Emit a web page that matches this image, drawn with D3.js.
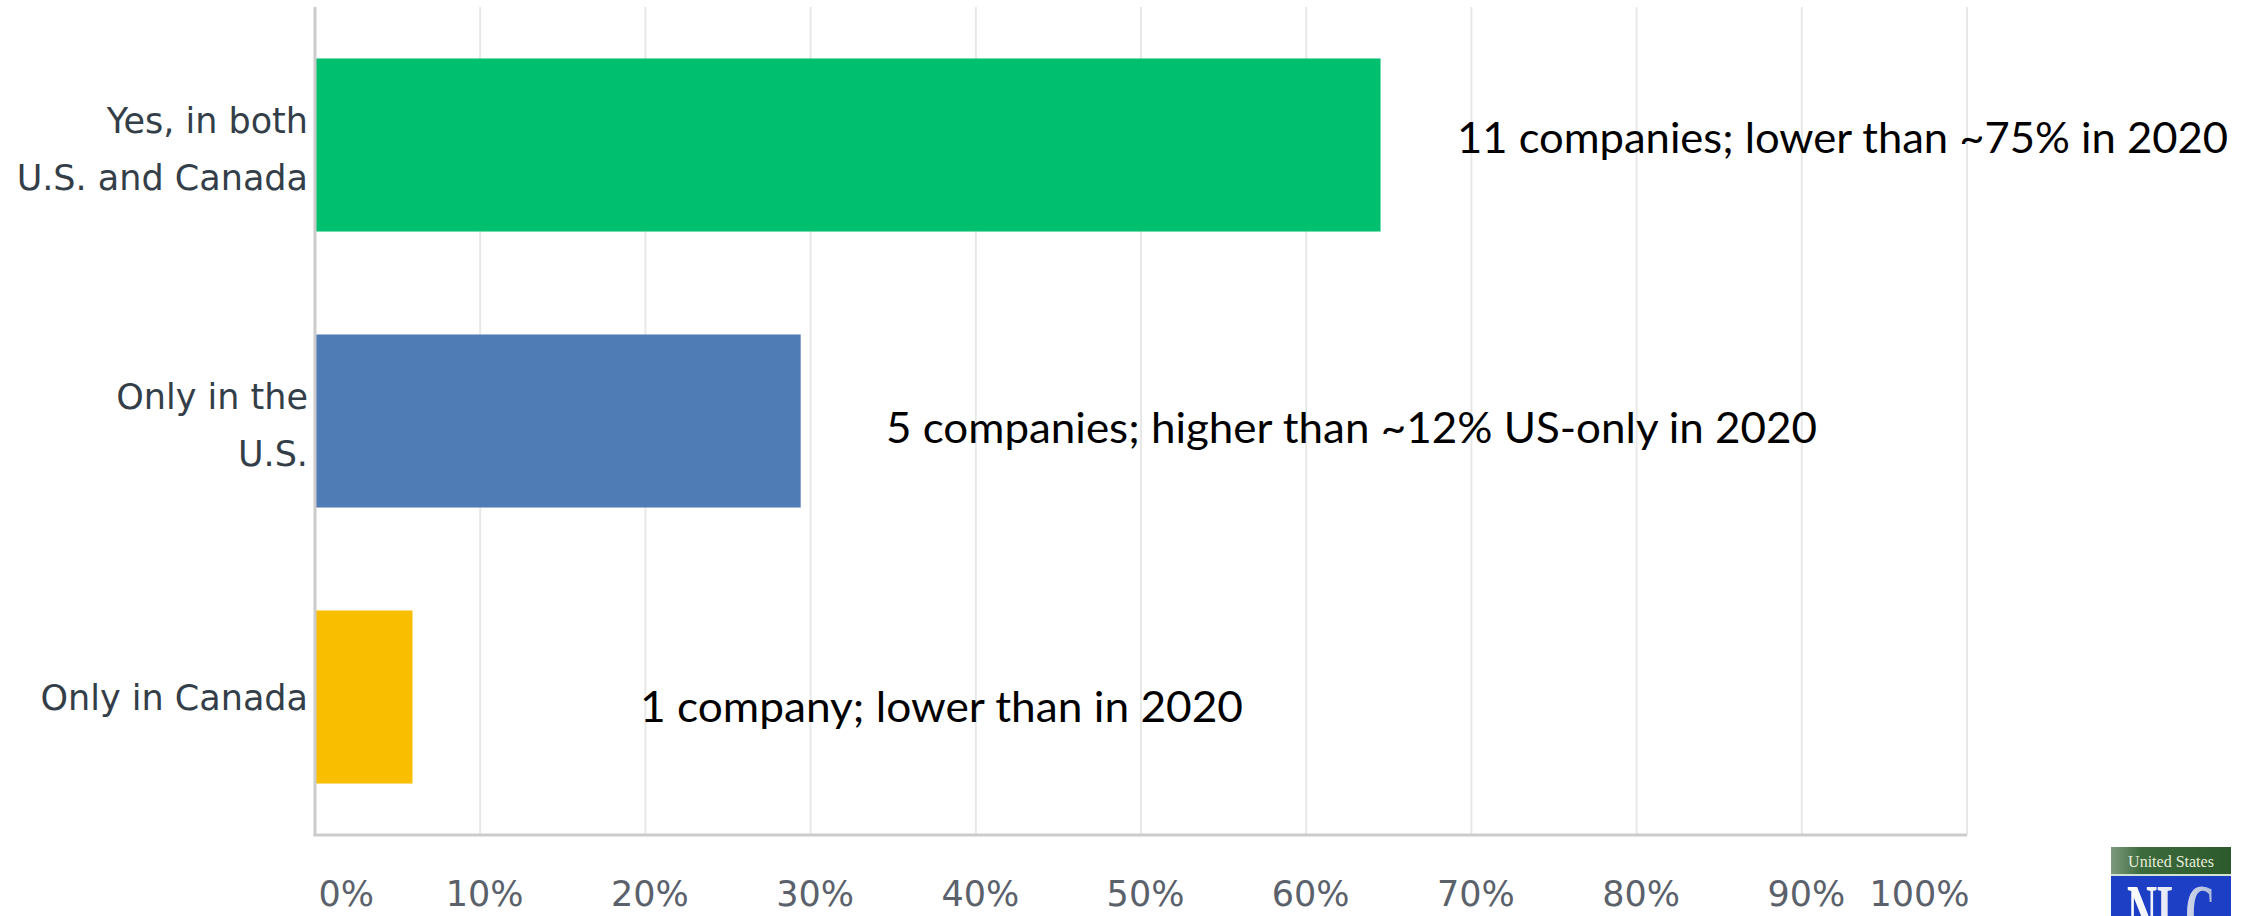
<!DOCTYPE html>
<html>
<head>
<meta charset="utf-8">
<script src="https://cdn.jsdelivr.net/npm/d3@7"></script>
<style>
  html, body { margin: 0; padding: 0; background: #ffffff; }
  svg { display: block; }
</style>
</head>
<body>
<script>
// ---- data ----
const categories = [
  ["Yes, in both", "U.S. and Canada"],
  ["Only in the", "U.S."],
  ["Only in Canada"]
];
const shares = [0.645, 0.294, 0.059];
const annotations = [
  "11 companies; lower than ~75% in 2020",
  "5 companies; higher than ~12% US-only in 2020",
  "1 company; lower than in 2020"
];
const tickValues = [0, 0.1, 0.2, 0.3, 0.4, 0.5, 0.6, 0.7, 0.8, 0.9, 1.0];
const tickLabels = ["0%", "10%", "20%", "30%", "40%", "50%", "60%", "70%", "80%", "90%", "100%"];
const logoTop = "United States";
const logoMain = "NLC";

// ---- layout / style ----
const W = 2261, H = 916;
const barColors = ["#00bf6f", "#507cb6", "#f9be00"];
const annoLayout = [
  { x: 1457, y: 153, w: 771 },
  { x: 886, y: 443, w: 931 },
  { x: 640, y: 722, w: 603 }
];

const svg = d3.select("body").append("svg")
  .attr("width", W).attr("height", H)
  .attr("viewBox", `0 0 ${W} ${H}`);

const x = d3.scaleLinear().domain([0, 1]).range([315, 1967]);
const y = d3.scaleBand().domain(d3.range(categories.length))
  .range([7, 835]).paddingInner(0.373).paddingOuter(0.1865);

// gridlines
svg.append("g").selectAll("line")
  .data(tickValues.slice(1))
  .join("line")
  .attr("x1", d => x(d)).attr("x2", d => x(d))
  .attr("y1", 7).attr("y2", 835)
  .attr("stroke", "#e8e8e8").attr("stroke-width", 2);

// bars
svg.append("g").selectAll("rect")
  .data(shares)
  .join("rect")
  .attr("x", x(0) + 1)
  .attr("y", (d, i) => y(i))
  .attr("width", d => x(d) - x(0) - 1)
  .attr("height", y.bandwidth())
  .attr("fill", (d, i) => barColors[i]);

// axis lines
svg.append("line").attr("x1", x(0)).attr("x2", x(0)).attr("y1", 7).attr("y2", 836)
  .attr("stroke", "#cccccc").attr("stroke-width", 3);
svg.append("line").attr("x1", x(0) - 1.5).attr("x2", x(1)).attr("y1", 835).attr("y2", 835)
  .attr("stroke", "#cccccc").attr("stroke-width", 3);

// x tick labels via d3 axis
const xAxis = d3.axisBottom(x).tickValues(tickValues)
  .tickFormat((d, i) => tickLabels[i]).tickSize(0).tickPadding(0);
const gx = svg.append("g").attr("transform", "translate(0,880)").call(xAxis);
gx.select(".domain").remove();
gx.selectAll("text")
  .attr("font-family", "DejaVu Sans, sans-serif")
  .attr("font-size", 35)
  .attr("fill", "#5a616b")
  .attr("dy", 0).attr("y", 26)
  .attr("text-anchor", (d, i) => i === 0 ? "start" : (i === tickValues.length - 1 ? "end" : "middle"))
  .attr("dx", (d, i) => i === 0 ? 3 : (i === tickValues.length - 1 ? 2 : 4));

// y category labels
const lineGap = 57;
const gy = svg.append("g");
categories.forEach((lines, i) => {
  const cy = y(i) + y.bandwidth() / 2;
  const t = gy.append("text")
    .attr("font-family", "DejaVu Sans, sans-serif")
    .attr("font-size", 35)
    .attr("fill", "#333e48")
    .attr("text-anchor", "end");
  const n = lines.length;
  lines.forEach((ln, j) => {
    t.append("tspan")
      .attr("x", 308)
      .attr("y", cy + 13 + (j - (n - 1) / 2) * lineGap + (n > 1 ? 3 : 0))
      .text(ln);
  });
});

// annotations
svg.append("g").selectAll("text")
  .data(annotations)
  .join("text")
  .attr("x", (d, i) => annoLayout[i].x)
  .attr("y", (d, i) => annoLayout[i].y)
  .attr("textLength", (d, i) => annoLayout[i].w)
  .attr("lengthAdjust", "spacingAndGlyphs")
  .attr("font-family", "Lato, 'Open Sans', sans-serif")
  .attr("font-size", 42)
  .attr("fill", "#000000")
  .text(d => d);

// logo
const defs = svg.append("defs");
const gGreen = defs.append("linearGradient").attr("id", "gGreen").attr("x1", 0).attr("x2", 1).attr("y1", 0).attr("y2", 0);
gGreen.append("stop").attr("offset", "0%").attr("stop-color", "#7f9a7f");
gGreen.append("stop").attr("offset", "25%").attr("stop-color", "#3d6b3d");
gGreen.append("stop").attr("offset", "100%").attr("stop-color", "#2c5a2c");
const gLetters = defs.append("linearGradient").attr("id", "gLetters").attr("x1", 0).attr("x2", 1).attr("y1", 0).attr("y2", 0);
gLetters.append("stop").attr("offset", "0%").attr("stop-color", "#ffffff");
gLetters.append("stop").attr("offset", "50%").attr("stop-color", "#e4e8f4");
gLetters.append("stop").attr("offset", "100%").attr("stop-color", "#aab6d8");
defs.append("clipPath").attr("id", "logoClip")
  .append("rect").attr("x", 2111).attr("y", 847).attr("width", 120).attr("height", 69);

const logo = svg.append("g").attr("clip-path", "url(#logoClip)");
logo.append("rect").attr("x", 2111).attr("y", 847).attr("width", 120).attr("height", 27).attr("fill", "url(#gGreen)");
logo.append("rect").attr("x", 2111).attr("y", 874).attr("width", 120).attr("height", 2).attr("fill", "#cfe3d0");
logo.append("rect").attr("x", 2111).attr("y", 876).attr("width", 120).attr("height", 40).attr("fill", "#1c3fc6");
logo.append("text").attr("x", 2171).attr("y", 867).attr("text-anchor", "middle")
  .attr("font-family", "Liberation Serif, serif").attr("font-size", 16)
  .attr("fill", "#e6ecd9").text(logoTop);
logo.append("text").attr("x", 2127).attr("y", 940)
  .attr("textLength", 88).attr("lengthAdjust", "spacingAndGlyphs")
  .attr("font-family", "Liberation Serif, serif").attr("font-weight", "bold").attr("font-size", 80)
  .attr("fill", "url(#gLetters)").text(logoMain);
</script>
</body>
</html>
